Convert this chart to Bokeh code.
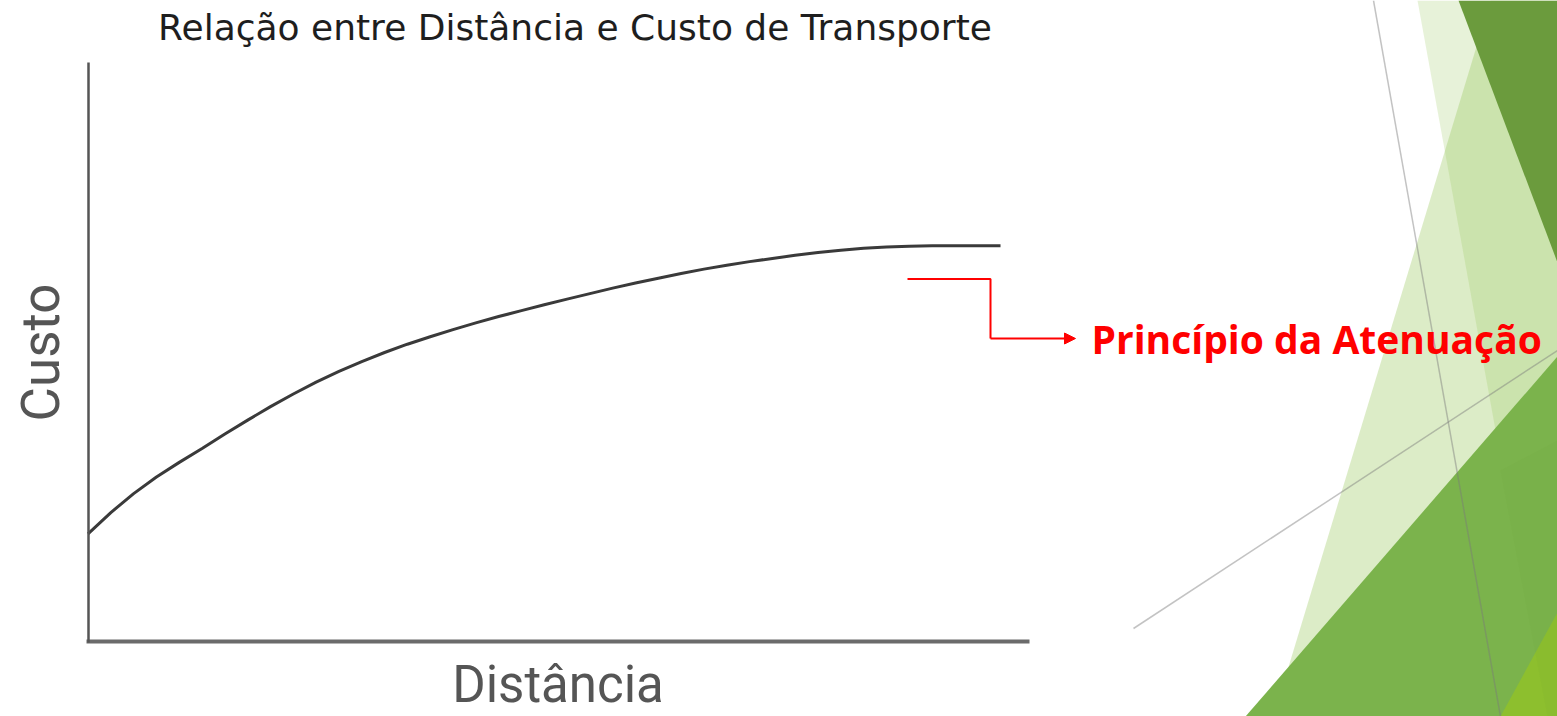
from bokeh.plotting import figure
from bokeh.models import LinearAxis, FixedTicker, Range1d, Label, Arrow, NormalHead
from bokeh.embed import file_html
from bokeh.resources import INLINE

# ---- chart data ----
distance = [0, 0.25, 0.5, 0.75, 1, 1.25, 1.5, 1.75, 2, 2.25, 2.5, 2.75, 3, 3.25, 3.5, 3.75,
            4, 4.25, 4.5, 4.75, 5, 5.25, 5.5, 5.75, 6, 6.25, 6.5, 6.75, 7, 7.25, 7.5, 7.75,
            8, 8.25, 8.5, 8.75, 9, 9.25, 9.5, 9.75, 10]
cost = [2.71, 3.25, 3.73, 4.15, 4.52, 4.87, 5.24, 5.59, 5.93, 6.25, 6.55, 6.82, 7.07, 7.30,
        7.51, 7.70, 7.88, 8.05, 8.21, 8.36, 8.51, 8.65, 8.79, 8.93, 9.06, 9.18, 9.30, 9.41,
        9.51, 9.60, 9.68, 9.76, 9.83, 9.89, 9.94, 9.97, 9.99, 10.0, 10.0, 10.0, 10.0]
title_text = "Relação entre Distância e Custo de Transporte"
x_label = "Distância"
y_label = "Custo"
note_text = "Princípio da Atenuação"

W, H = 1557, 716

p = figure(width=W, height=H, output_backend="svg", toolbar_location=None,
           x_range=Range1d(-0.959, 16.104), y_range=Range1d(-1.910, 16.207),
           x_axis_location=None, y_axis_location=None, min_border=0,
           background_fill_color="white", border_fill_color="white")
p.title.text = ""
p.title.visible = False
p.outline_line_color = None
p.grid.visible = False
p.extra_x_ranges = {"px": Range1d(0, W)}
p.extra_y_ranges = {"px": Range1d(H, 0)}

# ---- slide decoration (theme triangles) ----
G = "#92C450"
deco = [
    ([1490, 1557, 1557, 1273], [0, 0, 716, 716], G, 0.32),
    ([1417, 1557, 1557, 1547], [0, 0, 716, 716], G, 0.22),
    ([1458, 1557, 1557], [0, 0, 262], "#6B9B3D", 1.0),
    ([1557, 1557, 1245], [356, 716, 716], "#7BB34C", 1.0),
    ([1557, 1557, 1500], [612, 716, 716], "#8DBF2E", 1.0),
]
for xs, ys, c, a in deco:
    p.patch(xs, ys, fill_color=c, fill_alpha=a, line_color=None,
            x_range_name="px", y_range_name="px")
p.patch([1500, 1557, 1557, 1547], [470, 440, 716, 716], fill_color="#5E9A30", fill_alpha=0.06,
        line_color=None, x_range_name="px", y_range_name="px")
for xs, ys in [([1373, 1500], [0, 716]), ([1133, 1557], [628, 350])]:
    p.line(xs, ys, line_color="#7a7a7a", line_alpha=0.45, line_width=1.5,
           x_range_name="px", y_range_name="px")

# ---- axes ----
common = dict(ticker=FixedTicker(ticks=[]), major_tick_in=0, major_tick_out=0,
              minor_tick_in=0, minor_tick_out=0, major_label_text_font_size="0px",
              major_label_standoff=0, axis_label_text_font="Roboto",
              axis_label_text_color="#555555", axis_label_text_font_style="normal")
yaxis = LinearAxis(fixed_location=0, bounds=(-0.05, 14.64), axis_label=y_label,
                   axis_line_width=2.5, axis_line_color="#555555",
                   axis_label_standoff=17, axis_label_text_font_size="53px", **common)
xaxis = LinearAxis(fixed_location=0, bounds=(-0.02, 10.32), axis_label=x_label,
                   axis_line_width=4, axis_line_color="#6b6b6b",
                   axis_label_standoff=13, axis_label_text_font_size="51px", **common)
p.add_layout(yaxis, "left")
p.add_layout(xaxis, "below")

# ---- curve ----
p.line(distance, cost, line_width=3, line_color="#3a3a3a", line_join="round")

# ---- title ----
p.add_layout(Label(x=574.5, y=27, x_range_name="px", y_range_name="px", text=title_text,
                   text_align="center", text_baseline="alphabetic", text_font="DejaVu Sans",
                   text_font_size="36px", text_color="#1e1e1e"))

# ---- annotation ----
p.line([907, 990, 990], [278.5, 278.5, 338], line_color="#ff0000", line_width=2,
       x_range_name="px", y_range_name="px")
p.add_layout(Arrow(end=NormalHead(size=11, fill_color="#ff0000", line_color="#ff0000"),
                   x_start=990, y_start=338, x_end=1075, y_end=338,
                   x_range_name="px", y_range_name="px",
                   line_color="#ff0000", line_width=2))
p.add_layout(Label(x=1091, y=338, x_range_name="px", y_range_name="px", text=note_text,
                   text_align="left", text_baseline="alphabetic", text_font="Open Sans",
                   text_font_style="bold", text_font_size="39px", text_color="#ff0000"))

open("out.html", "w").write(file_html(p, INLINE))
